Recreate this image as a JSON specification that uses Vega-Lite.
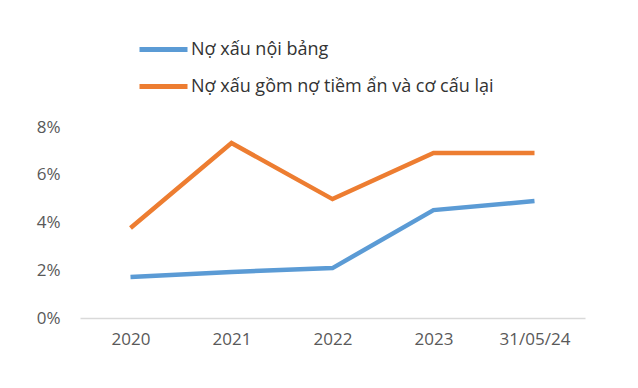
{
  "$schema": "https://vega.github.io/schema/vega-lite/v6.json",
  "width": 505,
  "height": 191,
  "autosize": "none",
  "padding": {"left": 80, "top": 127, "right": 53, "bottom": 70},
  "background": "white",
  "config": {"view": {"stroke": null}, "font": "Open Sans"},
  "data": {"values": [
    {"period": "2020", "series": "Nợ xấu nội bảng", "value": 0.0172},
    {"period": "2021", "series": "Nợ xấu nội bảng", "value": 0.0193},
    {"period": "2022", "series": "Nợ xấu nội bảng", "value": 0.0209},
    {"period": "2023", "series": "Nợ xấu nội bảng", "value": 0.0452},
    {"period": "31/05/24", "series": "Nợ xấu nội bảng", "value": 0.049},
    {"period": "2020", "series": "Nợ xấu gồm nợ tiềm ẩn và cơ cấu lại", "value": 0.0377},
    {"period": "2021", "series": "Nợ xấu gồm nợ tiềm ẩn và cơ cấu lại", "value": 0.0733},
    {"period": "2022", "series": "Nợ xấu gồm nợ tiềm ẩn và cơ cấu lại", "value": 0.0498},
    {"period": "2023", "series": "Nợ xấu gồm nợ tiềm ẩn và cơ cấu lại", "value": 0.0691},
    {"period": "31/05/24", "series": "Nợ xấu gồm nợ tiềm ẩn và cơ cấu lại", "value": 0.0691}
  ]},
  "mark": {"type": "line", "strokeWidth": 4.5, "strokeCap": "butt"},
  "encoding": {
    "x": {"field": "period", "type": "ordinal", "sort": null,
      "scale": {"type": "point", "padding": 0.5},
      "axis": {"title": null, "labelAngle": 0, "labelFontSize": 17, "labelColor": "#595959", "labelPadding": 13,
        "domainColor": "#d9d9d9", "domainWidth": 1.5, "ticks": false, "grid": false}},
    "y": {"field": "value", "type": "quantitative",
      "scale": {"domain": [0, 0.08], "nice": false},
      "axis": {"title": null, "format": ".0%", "values": [0, 0.02, 0.04, 0.06, 0.08], "labelFontSize": 17, "labelColor": "#595959",
        "labelPadding": 20, "domain": false, "ticks": false, "grid": false}},
    "color": {"field": "series", "type": "nominal",
      "scale": {"domain": ["Nợ xấu nội bảng", "Nợ xấu gồm nợ tiềm ẩn và cơ cấu lại"], "range": ["#5B9BD5", "#ED7D31"]},
      "legend": {"title": null, "orient": "none", "legendX": 57, "legendY": -104, "direction": "vertical",
        "symbolType": "stroke", "symbolSize": 2304, "symbolStrokeWidth": 5, "labelFontSize": 18, "labelColor": "#333333",
        "labelOffset": 1, "rowPadding": -9, "labelLimit": 400}}
  }
}
